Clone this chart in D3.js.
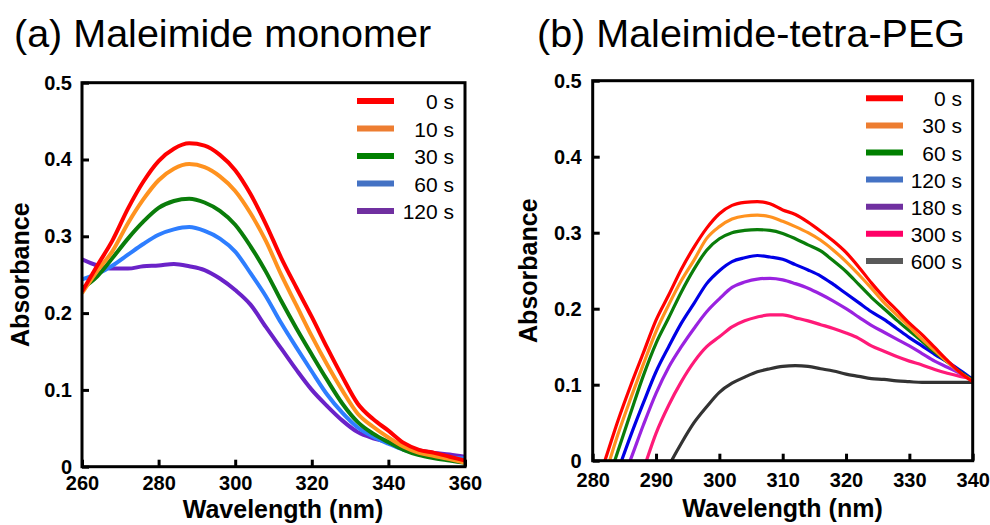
<!DOCTYPE html>
<html><head><meta charset="utf-8">
<script src="https://cdn.jsdelivr.net/npm/d3@7"></script>
<style>body{margin:0;background:#fff}svg{display:block}text{font-family:"Liberation Sans",Arial,sans-serif}</style>
</head><body><svg id="c" width="990" height="525"></svg>
<script>
// ---------- Panel (a) data ----------
const wavelengthsA = [260,264,268,272,276,280,284,288,292,296,300,304,308,312,316,320,324,328,332,336,340,344,348,352,356,360];
const labelsA = ["0 s","10 s","30 s","60 s","120 s"];
const absA_0s   = [0.228,0.262,0.295,0.336,0.371,0.398,0.414,0.421,0.418,0.406,0.386,0.355,0.316,0.272,0.233,0.195,0.155,0.117,0.082,0.062,0.047,0.031,0.022,0.018,0.013,0.008];
const absA_10s  = [0.226,0.255,0.281,0.317,0.348,0.373,0.388,0.394,0.390,0.378,0.359,0.330,0.294,0.250,0.210,0.170,0.133,0.099,0.069,0.052,0.038,0.026,0.018,0.014,0.010,0.005];
const absA_30s  = [0.232,0.248,0.272,0.297,0.319,0.337,0.346,0.349,0.344,0.333,0.315,0.287,0.254,0.216,0.180,0.146,0.113,0.082,0.058,0.043,0.032,0.022,0.015,0.011,0.008,0.005];
const absA_60s  = [0.244,0.251,0.262,0.276,0.290,0.302,0.309,0.312,0.307,0.297,0.280,0.252,0.222,0.187,0.155,0.124,0.094,0.070,0.051,0.039,0.030,0.022,0.017,0.014,0.012,0.011];
const absA_120s = [0.270,0.262,0.258,0.258,0.261,0.262,0.264,0.261,0.256,0.245,0.230,0.211,0.182,0.154,0.126,0.100,0.079,0.060,0.045,0.037,0.032,0.026,0.021,0.018,0.016,0.013];
const xTicksA = [260,280,300,320,340,360];
const yTicks = [0,0.1,0.2,0.3,0.4,0.5];
const yTickLabels = ["0","0.1","0.2","0.3","0.4","0.5"];

// ---------- Panel (b) data ----------
const wavelengthsB = [280,282,284,286,288,290,292,294,296,298,300,302,304,306,308,310,312,314,316,318,320,322,324,326,328,330,332,334,336,338,340];
const labelsB = ["0 s","30 s","60 s","120 s","180 s","300 s","600 s"];
const absB_0s   = [-0.047,0.002,0.053,0.099,0.142,0.185,0.218,0.252,0.281,0.306,0.325,0.336,0.340,0.341,0.338,0.330,0.324,0.314,0.302,0.289,0.274,0.255,0.234,0.215,0.198,0.181,0.166,0.149,0.132,0.116,0.104];
const absB_30s  = [-0.070,-0.018,0.035,0.082,0.127,0.170,0.205,0.237,0.264,0.2925,0.308,0.318,0.322,0.323,0.321,0.315,0.308,0.300,0.290,0.277,0.262,0.245,0.227,0.208,0.192,0.176,0.160,0.145,0.130,0.116,0.105];
const absB_60s  = [-0.085,-0.037,0.013,0.063,0.112,0.1545,0.188,0.222,0.252,0.277,0.292,0.300,0.303,0.304,0.303,0.299,0.292,0.284,0.276,0.263,0.249,0.232,0.215,0.200,0.185,0.171,0.157,0.143,0.130,0.117,0.106];
const absB_120s = [-0.105,-0.060,-0.013,0.033,0.076,0.117,0.150,0.181,0.207,0.233,0.250,0.262,0.267,0.270,0.268,0.265,0.258,0.251,0.243,0.232,0.220,0.208,0.196,0.186,0.174,0.162,0.151,0.140,0.130,0.119,0.107];
const absB_180s = [-0.130,-0.085,-0.040,0.002,0.047,0.0887,0.123,0.150,0.174,0.196,0.213,0.228,0.235,0.239,0.240,0.238,0.233,0.227,0.219,0.210,0.200,0.189,0.178,0.169,0.160,0.151,0.141,0.131,0.123,0.115,0.107];
const absB_300s = [-0.210,-0.160,-0.110,-0.060,-0.012,0.036,0.073,0.104,0.130,0.150,0.163,0.176,0.184,0.189,0.192,0.192,0.188,0.184,0.179,0.174,0.168,0.161,0.151,0.144,0.137,0.131,0.126,0.120,0.115,0.111,0.108];
const absB_600s = [-0.200,-0.170,-0.135,-0.100,-0.070,-0.040,-0.007,0.023,0.050,0.071,0.090,0.102,0.110,0.117,0.121,0.124,0.125,0.124,0.121,0.118,0.114,0.111,0.108,0.107,0.105,0.104,0.103,0.103,0.103,0.103,0.103];
const xTicksB = [280,290,300,310,320,330,340];

const svg = d3.select("#c");
const FONT = '"Liberation Sans", Arial, sans-serif';

function panel(cfg) {
  const g = svg.append("g");
  const x = d3.scaleLinear().domain(cfg.xDomain).range([cfg.left, cfg.right]);
  const y = d3.scaleLinear().domain([0, 0.5]).range([cfg.bottom, cfg.top]);
  const clipId = "clip" + cfg.id;
  svg.append("defs").append("clipPath").attr("id", clipId)
    .append("rect").attr("x", cfg.left).attr("y", cfg.top)
    .attr("width", cfg.right - cfg.left).attr("height", cfg.bottom - cfg.top);

  const line = d3.line().x((d, i) => x(cfg.xs[i])).y(d => y(d)).curve(d3.curveMonotoneX);
  const lg = g.append("g").attr("clip-path", `url(#${clipId})`);
  cfg.series.map((s, i) => i).reverse().forEach(i => {
    lg.append("path").datum(cfg.series[i]).attr("d", line)
      .attr("fill", "none").attr("stroke", cfg.lineColors[i])
      .attr("stroke-width", cfg.lineWidth).attr("stroke-linejoin", "round");
  });

  const xAxis = d3.axisBottom(x).tickValues(cfg.xTicks).tickSize(-7).tickPadding(cfg.xTickPad).tickFormat(d3.format("d"));
  const yAxis = d3.axisLeft(y).tickValues(yTicks).tickSize(-7).tickPadding(cfg.yTickPad).tickFormat((d, i) => yTickLabels[i]);
  const gx = g.append("g").attr("transform", `translate(0,${cfg.bottom})`).call(xAxis);
  const gy = g.append("g").attr("transform", `translate(${cfg.left},0)`).call(yAxis);
  [gx, gy].forEach(a => {
    a.select(".domain").remove();
    a.selectAll(".tick line").attr("stroke", "#000").attr("stroke-width", 3);
    a.selectAll(".tick text").attr("font-family", FONT).attr("font-size", 20)
      .attr("font-weight", "bold").attr("fill", "#000");
  });
  g.append("rect").attr("x", cfg.left).attr("y", cfg.top)
    .attr("width", cfg.right - cfg.left).attr("height", cfg.bottom - cfg.top)
    .attr("fill", "none").attr("stroke", "#000").attr("stroke-width", 3);

  g.append("text").attr("x", cfg.xTitleX).attr("y", cfg.xTitleY).attr("text-anchor", "middle")
    .attr("font-family", FONT).attr("font-size", 25).attr("font-weight", "bold").text("Wavelength (nm)");
  g.append("text").attr("transform", `translate(${cfg.yTitleX},${(cfg.top + cfg.bottom) / 2}) rotate(-90)`)
    .attr("text-anchor", "middle").attr("font-family", FONT).attr("font-size", 25)
    .attr("font-weight", "bold").text("Absorbance");

  g.append("text").attr("x", cfg.titleX).attr("y", 47).attr("font-family", FONT)
    .attr("font-size", 39.5).text(cfg.title);

  cfg.labels.forEach((lab, i) => {
    const cy = cfg.legY0 + i * cfg.legDy;
    g.append("line").attr("x1", cfg.legX0).attr("x2", cfg.legX0 + 37).attr("y1", cy).attr("y2", cy)
      .attr("stroke", cfg.legendColors[i]).attr("stroke-width", 6);
    g.append("text").attr("x", cfg.legTextX).attr("y", cy + 8).attr("text-anchor", "end")
      .attr("font-family", FONT).attr("font-size", 21).attr("fill", "#000").text(lab);
  });
}

panel({
  id: "A", left: 82, right: 465, top: 82.7, bottom: 466.7,
  xDomain: [260, 360], xTicks: xTicksA, xs: wavelengthsA,
  series: [absA_0s, absA_10s, absA_30s, absA_60s, absA_120s],
  lineColors: ["#FF0000", "#FF921F", "#0A7D0A", "#2E7EFF", "#6A22C8"],
  legendColors: ["#FF0000", "#ED7D31", "#008000", "#4472C4", "#7030A0"],
  labels: labelsA, lineWidth: 4, xTickPad: 9, yTickPad: 10,
  xTitleX: 283, xTitleY: 518, yTitleX: 29,
  title: "(a) Maleimide monomer", titleX: 14,
  legX0: 357, legY0: 101, legDy: 27.5, legTextX: 454
});

panel({
  id: "B", left: 592.7, right: 972.7, top: 80.7, bottom: 460.7,
  xDomain: [280, 340], xTicks: xTicksB, xs: wavelengthsB,
  series: [absB_0s, absB_30s, absB_60s, absB_120s, absB_180s, absB_300s, absB_600s],
  lineColors: ["#FF0000", "#FF921F", "#0A7D0A", "#0000E6", "#9A22E0", "#FF1A78", "#333333"],
  legendColors: ["#FF0000", "#ED7D31", "#008000", "#4472C4", "#7030A0", "#FF0066", "#595959"],
  labels: labelsB, lineWidth: 3.2, xTickPad: 12, yTickPad: 11,
  xTitleX: 782.5, xTitleY: 517, yTitleX: 537,
  title: "(b) Maleimide-tetra-PEG", titleX: 537,
  legX0: 866, legY0: 98.3, legDy: 27.1, legTextX: 962
});
</script></body></html>
